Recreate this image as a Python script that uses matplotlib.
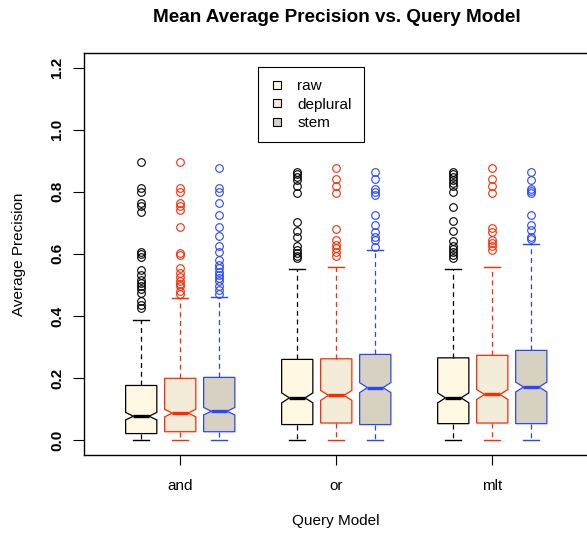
import matplotlib.pyplot as plt
from matplotlib.lines import Line2D

plt.rcParams['font.family'] = ['Liberation Sans', 'DejaVu Sans']

# query models (groups) and term variants (boxes inside each group)
models = ["and", "or", "mlt"]
variants = ["raw", "deplural", "stem"]

# box statistics: [model][variant]
q1 = [[0.021, 0.027, 0.027], [0.050, 0.055, 0.050], [0.053, 0.055, 0.053]]
med = [[0.077, 0.087, 0.093], [0.136, 0.144, 0.169], [0.136, 0.147, 0.171]]
q3 = [[0.176, 0.199, 0.202], [0.260, 0.262, 0.276], [0.265, 0.273, 0.289]]
whis_lo = [[0.0, 0.0, 0.0], [0.0, 0.0, 0.0], [0.0, 0.0, 0.0]]
whis_hi = [[0.387, 0.457, 0.461], [0.551, 0.557, 0.613], [0.551, 0.557, 0.633]]
notch = [[0.012, 0.012, 0.012], [0.016, 0.016, 0.016], [0.016, 0.016, 0.016]]

outliers = [
    [  # and
        [0.896, 0.811, 0.800, 0.763, 0.755, 0.734, 0.607, 0.600, 0.591, 0.549,
         0.533, 0.516, 0.506, 0.498, 0.488, 0.474, 0.447, 0.436, 0.425],
        [0.896, 0.811, 0.800, 0.763, 0.755, 0.742, 0.686, 0.602, 0.597, 0.554,
         0.538, 0.527, 0.511, 0.503, 0.495, 0.479, 0.472],
        [0.878, 0.811, 0.800, 0.765, 0.725, 0.686, 0.656, 0.624, 0.607, 0.579,
         0.565, 0.554, 0.543, 0.533, 0.522, 0.511, 0.498, 0.484, 0.472],
    ],
    [  # or
        [0.864, 0.857, 0.849, 0.838, 0.817, 0.795, 0.704, 0.675, 0.654, 0.624,
         0.613, 0.602, 0.594, 0.586],
        [0.875, 0.840, 0.819, 0.795, 0.679, 0.645, 0.629, 0.618, 0.607, 0.594],
        [0.865, 0.840, 0.808, 0.798, 0.790, 0.725, 0.693, 0.672, 0.654, 0.645,
         0.621],
    ],
    [  # mlt
        [0.864, 0.857, 0.849, 0.838, 0.827, 0.817, 0.798, 0.752, 0.707, 0.675,
         0.640, 0.624, 0.616, 0.607, 0.597, 0.586],
        [0.875, 0.840, 0.817, 0.795, 0.683, 0.672, 0.645, 0.634, 0.624, 0.613],
        [0.864, 0.838, 0.810, 0.803, 0.795, 0.725, 0.693, 0.677, 0.654, 0.647],
    ],
]

fills = ['#FFF8E3', '#F2ECD9', '#D7D1C1']
edges = ['#000000', '#FF2A00', '#2846FF']

fig = plt.figure(figsize=(5.87, 5.33), dpi=100)
ax = fig.add_axes([83.5 / 587, 78 / 533, 505.5 / 587, 402.3 / 533])

for v in range(len(variants)):
    stats, pos = [], []
    for g in range(len(models)):
        stats.append(dict(med=med[g][v], q1=q1[g][v], q3=q3[g][v],
                          whislo=whis_lo[g][v], whishi=whis_hi[g][v],
                          cilo=med[g][v] - notch[g][v], cihi=med[g][v] + notch[g][v],
                          fliers=outliers[g][v]))
        pos.append(4 * g + v + 1)
    c = edges[v]
    ax.bxp(stats, positions=pos, widths=0.8, shownotches=True, patch_artist=True,
           boxprops=dict(facecolor=fills[v], edgecolor=c, linewidth=0.9),
           medianprops=dict(color=c, linewidth=2.4, solid_capstyle='butt'),
           whiskerprops=dict(color=c, linewidth=0.9, linestyle=(0, (4, 3))),
           capprops=dict(color=c, linewidth=1.0),
           flierprops=dict(marker='o', markerfacecolor='none', markeredgecolor=c,
                           markersize=5.5, markeredgewidth=0.8))

ax.set_xlim(-0.48, 12.48)
ax.set_ylim(-0.048, 1.248)
ax.set_xticks([2, 6, 10])
ax.set_xticklabels(models, fontsize=11)
ax.set_yticks([0.0, 0.2, 0.4, 0.6, 0.8, 1.0, 1.2])
ax.set_yticklabels(["0.0", "0.2", "0.4", "0.6", "0.8", "1.0", "1.2"],
                   fontsize=11, fontweight='bold', rotation=90, va='center')
ax.tick_params(axis='x', length=7, pad=10)
ax.tick_params(axis='y', length=8, pad=6)
for s in ax.spines.values():
    s.set_linewidth(1.0)
    s.set_color('black')

ax.set_xlabel("Query Model", fontsize=11, va='center')
ax.xaxis.set_label_coords(0.5, -0.164)
ax.set_ylabel("Average Precision", fontsize=11, va='center')
ax.yaxis.set_label_coords(-0.128, 0.5)

fig.text(337 / 587, 1 - 17 / 533, "Mean Average Precision vs. Query Model",
         fontsize=13.6, fontweight='bold', ha='center', va='center')

handles = [Line2D([], [], linestyle='none', marker='s', markersize=6,
                  markerfacecolor=fills[i], markeredgecolor='black',
                  markeredgewidth=0.8) for i in range(3)]
leg = ax.legend(handles, variants, loc='upper left',
                bbox_to_anchor=((258.3 - 83.5) / 505.5, (466.3 - 78) / 402.3),
                fontsize=11, frameon=True, fancybox=False, framealpha=1,
                edgecolor='black', borderpad=0.8, handlelength=0.85,
                handletextpad=0.9, labelspacing=0.3, borderaxespad=0)
leg.get_frame().set_linewidth(0.8)

fig.savefig("out.png", dpi=100)
